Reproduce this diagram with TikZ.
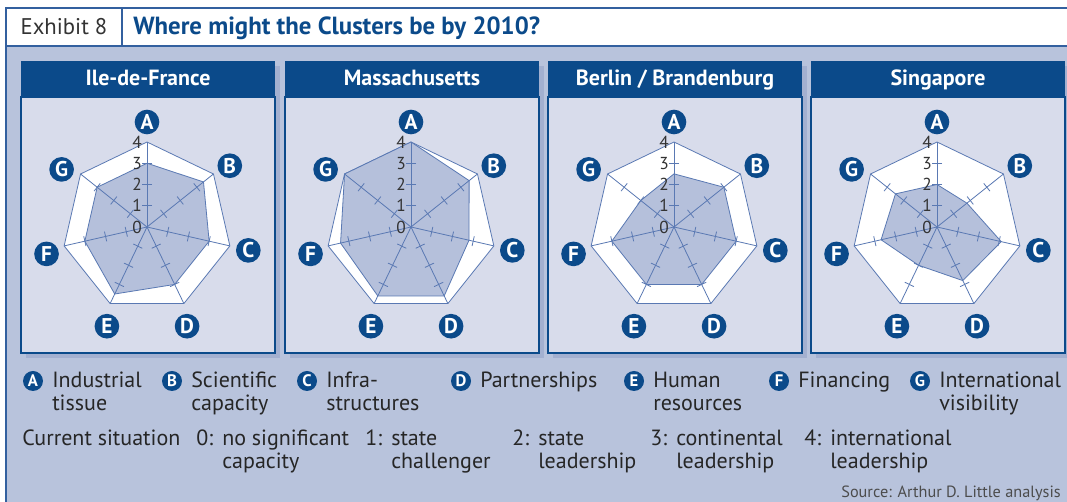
\documentclass[tikz,border=0pt]{standalone}
\usepackage{fontspec}
\setmainfont{PT Sans}
\definecolor{adlblue}{HTML}{0B4A8A}
\definecolor{framebg}{HTML}{B8C3DC}
\definecolor{panelbg}{HTML}{D8DCEB}
\definecolor{shadowbg}{HTML}{A3B0D0}
\definecolor{webblue}{HTML}{5A79B3}
\definecolor{valshade}{HTML}{B5C0DB}
\definecolor{rulecol}{HTML}{33609F}

\begin{document}
\begin{tikzpicture}[x=0.75pt,y=0.75pt,
        frameline/.style={rulecol,line width=1.1pt},
        letter/.style={circle,fill=adlblue,text=white,inner sep=0pt,minimum size=18.5pt,font=\fontsize{16}{16}\selectfont\bfseries},
        keyletter/.style={letter,minimum size=15pt,font=\fontsize{12.5}{12.5}\selectfont\bfseries},
        webline/.style={webblue,line width=0.6pt},
        valfill/.style={fill=valshade,draw=webblue,line width=0.6pt},
        scalenum/.style={text=black!80,inner sep=0pt,font=\fontsize{13}{13}\selectfont},
        keytext/.style={align=left,inner sep=0pt,text=black!85,font=\fontsize{16.5}{17.5}\selectfont},
    ]
    \useasboundingbox (0,0) rectangle (1067,502);

    % frame and title bar
    \fill[framebg] (6,0) rectangle (1067,456);
    \fill[white] (6,456) rectangle (1067,494);
    \draw[frameline] (6,0) -- (6,494) -- (1067,494);
    \draw[frameline] (6,456) -- (1067,456);
    \draw[frameline] (122,456) -- (122,494);
    \node[anchor=base,inner sep=0pt,text=black!80,font=\fontsize{17}{17}\selectfont] (exhibit) at (64,467) {Exhibit 8};
    \node[anchor=base west,inner sep=0pt,text=adlblue,font=\fontsize{18.6}{18.6}\selectfont\bfseries] (title) at (133,467) {Where might the Clusters be by 2010?};

    % the four radar panels
    \foreach \px/\name/\vals [count=\n] in {21/Ile-de-France/{3,3.4,3,3,3.5,3,3},
            285/Massachusetts/{4,3.5,2.8,3.6,3.6,3.4,4},
            548/{Berlin / Brandenburg}/{2.5,3,3,3,3,3,2},
            811/Singapore/{2,1.8,3.1,2.8,2,2.7,2.5}}
        {
            \fill[shadowbg] (\px+5,144) rectangle (\px+259,436);
            \draw[adlblue,fill=panelbg,line width=1.2pt] (\px,149) rectangle (\px+254,405);
            \fill[adlblue] (\px,405) rectangle (\px+254,441);
            \node[anchor=base,inner sep=0pt,text=white,font=\fontsize{16.5}{16.5}\selectfont\bfseries] (head\n) at (\px+127,416.5) {\name};
            \begin{scope}[shift={(\px+126,275)}]
                \foreach \k in {1,...,7}
                    \coordinate (o\k) at ({90-(\k-1)*360/7}:85);
                \draw[webline,fill=white] (o1) -- (o2) -- (o3) -- (o4) -- (o5) -- (o6) -- (o7) -- cycle;
                \foreach \v [count=\k] in \vals
                    \coordinate (v\k) at ({90-(\k-1)*360/7}:{\v*21.25});
                \draw[valfill] (v1) -- (v2) -- (v3) -- (v4) -- (v5) -- (v6) -- (v7) -- cycle;
                \foreach \k in {1,...,7}
                    {
                        \draw[webline] (0,0) -- (o\k);
                        \foreach \t in {1,2,3}
                            \draw[webline] ({90-(\k-1)*360/7}:{\t*21.25}) ++({-(\k-1)*360/7}:5) -- ++({180-(\k-1)*360/7}:10);
                    }
                \foreach \t in {0,...,4}
                    \node[scalenum,anchor=east] (num\n\t) at (-5,{\t*21.25}) {\t};
                \foreach \l/\a/\r in {A/90/105, B/36.5/103, C/-13/104, D/-68/107,
                        E/-112/107, F/-165/104, G/146/103}
                    \node[letter] (\l\n) at (\a:\r) {\l};
            \end{scope}
        }

    % key to the axes
    \foreach \x/\l/\txt in {33/A/{Industrial\\tissue}, 172/B/{Scientific\\capacity},
            307/C/{Infra-\\structures}, 461/D/{Partnerships}, 634/E/{Human\\resources},
            779/F/{Financing}, 920/G/{International\\visibility}}
        {
            \node[keyletter] (key\l) at (\x,121) {\l};
            \node[keytext,anchor=north west] (keytext\l) at (\x+19,131) {\strut\txt};
        }

    % key to the scale
    \node[keytext,anchor=north west] (current) at (22,73) {\strut Current situation};
    \foreach \x/\s/\txt in {196/0/{no significant\\capacity}, 365/1/{state\\challenger},
            512/2/{state\\leadership}, 650/3/{continental\\leadership},
            804/4/{international\\leadership}}
        {
            \node[keytext,anchor=north west] (lvl\s) at (\x,73) {\strut\s:};
            \node[keytext,anchor=north west] (lvltext\s) at (\x+26,73) {\strut\txt};
        }

    \node[anchor=base east,inner sep=0pt,text=black!70,font=\fontsize{12.2}{12.2}\selectfont] (source) at (1061,4.5) {Source: Arthur D. Little analysis};
\end{tikzpicture}
\end{document}
